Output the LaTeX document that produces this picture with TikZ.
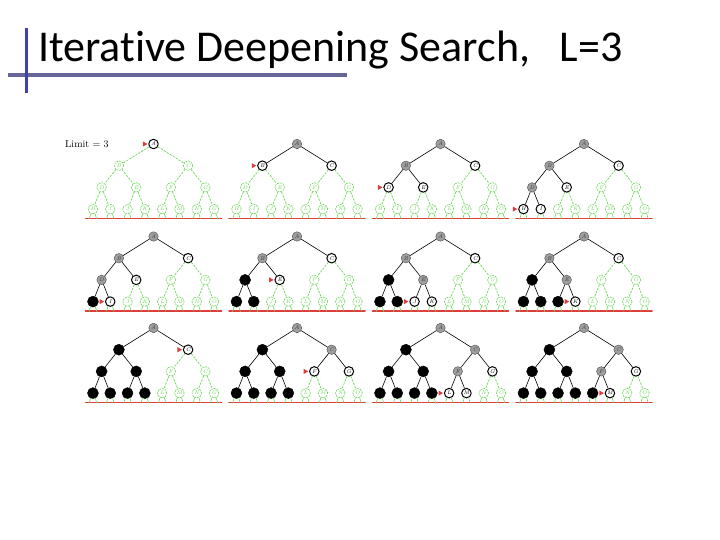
\documentclass[tikz,border=0pt]{standalone}
\usepackage{fontspec}
\newfontfamily\titlefont[Ligatures=NoCommon]{Carlito}
\usetikzlibrary{positioning,shapes.geometric}
\definecolor{idsgreen}{RGB}{105,215,85}
\definecolor{limitred}{RGB}{225,60,60}
\definecolor{barblue}{RGB}{64,64,176}
\definecolor{barslate}{RGB}{102,102,153}
\newcommand\idsLetter[1]{\ifcase#1\or A\or B\or C\or D\or E\or F\or G\or H\or I\or J\or K\or L\or M\or N\or O\fi}

\begin{document}
\begin{tikzpicture}[x=1pt, y=-1pt, line join=round, line cap=round,
	treenode/.style={circle, inner sep=0pt, minimum size=9.5pt, font=\fontsize{5.5}{6}\selectfont\itshape},
	st g/.style={treenode, draw=idsgreen, line width=0.6pt, dash pattern=on 1.6pt off 1.2pt, text=idsgreen, fill=white},
	st w/.style={treenode, draw=black, line width=1pt, fill=white},
	st s/.style={treenode, draw=black!70, fill=black!38, text=black!80},
	st k/.style={treenode, draw=black, fill=black, minimum size=11pt},
	link g/.style={idsgreen, dash pattern=on 2pt off 1.5pt, line width=0.7pt},
	link w/.style={black, line width=0.6pt},
	link s/.style={link w}, link k/.style={link w},
	stub/.style={idsgreen, line width=0.6pt},
	limitline/.style={draw=limitred, line width=1.7pt},
	marker/.style={isosceles triangle, isosceles triangle apex angle=60, fill=limitred, inner sep=0pt, minimum height=4.5pt, minimum width=5pt}]
	\useasboundingbox (0,0) rectangle (720,540);
	% title with the two bars
	\draw[barslate, line width=4pt, line cap=butt] (8,75) -- (347,75);
	\draw[barblue, line width=3pt, line cap=butt] (26,28) -- (26,93);
	\node[anchor=base west, inner sep=0pt, font=\titlefont\fontsize{44}{50}\selectfont] (title) at (38,62) {Iterative Deepening Search,\ \ \ L=3};
	% one panel per step: root position / states of A..O / node to expand
	\foreach \px/\py/\st/\mk [count=\p] in {
		153.5/144/{w,g,g,g,g,g,g,g,g,g,g,g,g,g,g}/1,
		297/144/{s,w,w,g,g,g,g,g,g,g,g,g,g,g,g}/2,
		440.5/144/{s,s,w,w,w,g,g,g,g,g,g,g,g,g,g}/4,
		584/144/{s,s,w,s,w,g,g,w,w,g,g,g,g,g,g}/8,
		153.5/236.5/{s,s,w,s,w,g,g,k,w,g,g,g,g,g,g}/9,
		297/236.5/{s,s,w,k,w,g,g,k,k,g,g,g,g,g,g}/5,
		440.5/236.5/{s,s,w,k,s,g,g,k,k,w,w,g,g,g,g}/10,
		584/236.5/{s,s,w,k,s,g,g,k,k,k,w,g,g,g,g}/11,
		153.5/328/{s,k,w,k,k,g,g,k,k,k,k,g,g,g,g}/3,
		297/328/{s,k,s,k,k,w,w,k,k,k,k,g,g,g,g}/6,
		440.5/328/{s,k,s,k,k,s,w,k,k,k,k,w,w,g,g}/12,
		584/328/{s,k,s,k,k,s,w,k,k,k,k,k,w,g,g}/13}
	{
		\begin{scope}[shift={(\px,\py)}]
			\draw[limitline] (-68,74.5) -- (68,74.5); % depth limit
			\foreach \s [count=\i] in \st {
				\pgfmathtruncatemacro\d{(\i>=2)+(\i>=4)+(\i>=8)}
				\pgfmathsetmacro\nx{(\i-2^\d+0.5)*138.4/2^\d-69.2}
				\node[st \s] (p\p-\i) at (\nx,21.7*\d) {\idsLetter{\i}};
			}
			\foreach \s [count=\i] in \st {
				\ifnum\i>1
					\pgfmathtruncatemacro\up{\i/2}
					\draw[link \s] (p\p-\up) -- (p\p-\i);
				\fi
				\ifnum\i>7
					\draw[stub] (p\p-\i.-115) -- ++(-1.5,5);
					\draw[stub] (p\p-\i.-65) -- ++(1.5,5);
				\fi
			}
			\node[marker, left=0.5pt of p\p-\mk] (mark\p) {};
		\end{scope}
	}
	\node[font=\fontsize{10}{11}\selectfont, left=36pt of p1-1] (limit) {Limit = 3};
\end{tikzpicture}
\end{document}
